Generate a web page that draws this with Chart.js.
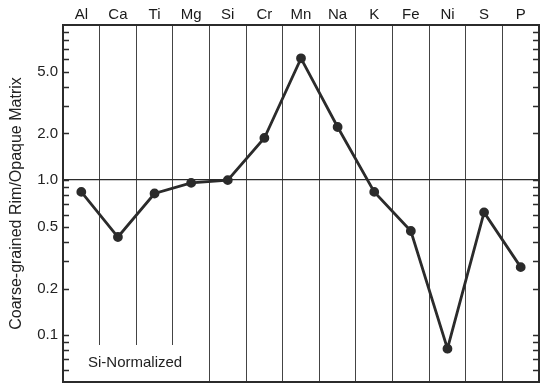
<!DOCTYPE html>
<html>
<head>
<meta charset="utf-8">
<script src="https://cdn.jsdelivr.net/npm/chart.js@4"></script>
<style>
  body { margin: 0; background: #fff; }
  #wrap { width: 541px; height: 385px; }
</style>
</head>
<body>
<div id="wrap"><canvas id="chart" width="541" height="385"></canvas></div>
<script>
const elements = ['Al', 'Ca', 'Ti', 'Mg', 'Si', 'Cr', 'Mn', 'Na', 'K', 'Fe', 'Ni', 'S', 'P']
const ratios = [0.84, 0.43, 0.82, 0.96, 1.0, 1.87, 6.1, 2.2, 0.84, 0.47, 0.082, 0.62, 0.275]
const tickValues = [0.05, 0.06, 0.07, 0.08, 0.09, 0.1, 0.2, 0.3, 0.4, 0.5, 0.6, 0.7, 0.8, 0.9, 1, 2, 3, 4, 5, 6, 7, 8, 9, 10]
const labeledTicks = [0.1, 0.2, 0.5, 1, 2, 5]

const ink = '#2b2b2b'
const font = '"Liberation Sans", Arial, sans-serif'

// frame, inside tick marks and the Si-Normalized note
const framePlugin = {
    id: 'frame',
    beforeDatasetsDraw(chart) {
        const { ctx, chartArea: a } = chart
        ctx.save()
        ctx.fillStyle = '#fff'
        ctx.fillRect(a.left + 22, 345, 105, a.bottom - 345 - 1)
        ctx.fillStyle = '#222'
        ctx.font = '15px ' + font
        ctx.textAlign = 'left'
        ctx.textBaseline = 'middle'
        ctx.fillText('Si-Normalized', 88, 363)
        ctx.restore()
    },
    afterDraw(chart) {
        const { ctx, chartArea: a } = chart
        const y = chart.scales.y
        ctx.save()
        ctx.strokeStyle = ink
        ctx.lineWidth = 1.3
        tickValues.forEach(v => {
            if (v === 10 || v === 0.05) return
            const py = Math.round(y.getPixelForValue(v)) + 0.5
            ctx.beginPath()
            ctx.moveTo(a.left, py)
            ctx.lineTo(a.left + 6, py)
            ctx.moveTo(a.right, py)
            ctx.lineTo(a.right - 6, py)
            ctx.stroke()
        })
        ctx.lineWidth = 2
        ctx.strokeRect(a.left, a.top, a.right - a.left, a.bottom - a.top)
        ctx.restore()
    }
}

new Chart('chart', {
    type: 'line',
    data: {
        labels: elements,
        datasets: [{
            data: ratios,
            borderColor: ink,
            backgroundColor: ink,
            borderWidth: 2.8,
            pointRadius: 3.5,
            pointBackgroundColor: ink,
            tension: 0
        }]
    },
    options: {
        responsive: false,
        animation: false,
        layout: { autoPadding: false, padding: { right: 2, bottom: 3 } },
        plugins: { legend: { display: false }, tooltip: { enabled: false } },
        scales: {
            x: {
                position: 'top',
                offset: true,
                grid: { offset: true, color: '#444', lineWidth: 1, drawTicks: false },
                border: { display: true, color: ink, width: 2 },
                ticks: {
                    color: '#1a1a1a',
                    padding: 1,
                    font: { family: font, size: 15 }
                },
                afterFit(scale) { scale.height = 25 }
            },
            y: {
                type: 'logarithmic',
                min: 0.05,
                max: 10,
                afterBuildTicks(scale) {
                    scale.ticks = tickValues.map(v => ({ value: v }))
                },
                grid: {
                    drawTicks: false,
                    color: ctx => ctx.tick && ctx.tick.value === 1 ? ink : 'rgba(0,0,0,0)',
                    lineWidth: 1.3
                },
                border: { display: true, color: ink, width: 2 },
                ticks: {
                    autoSkip: false,
                    padding: 5,
                    color: '#222',
                    font: { family: font, size: 15 },
                    callback: v => labeledTicks.includes(v) ? v.toFixed(1) : ''
                },
                title: {
                    display: true,
                    text: 'Coarse-grained Rim/Opaque Matrix',
                    color: '#222',
                    padding: { top: 7, bottom: 0 },
                    font: { family: font, size: 16 }
                },
                afterFit(scale) {
                    scale.width = 63
                    scale.paddingTop = 0
                    scale.paddingBottom = 0
                }
            }
        }
    },
    plugins: [framePlugin]
})
</script>
</body>
</html>
